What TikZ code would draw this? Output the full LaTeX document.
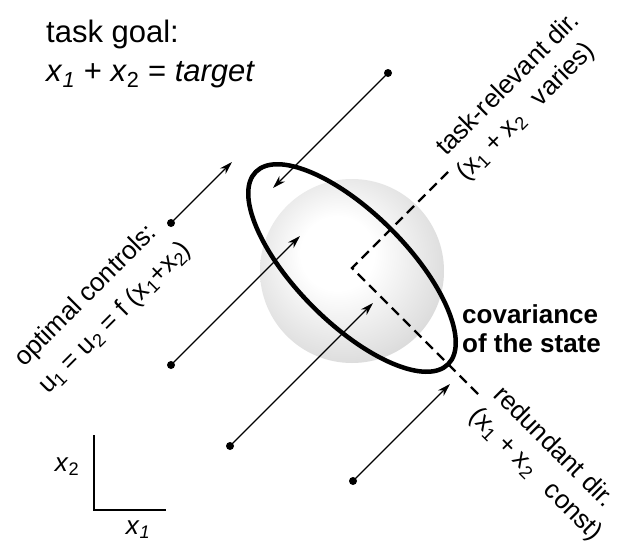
\documentclass[tikz,border=0pt]{standalone}
\usepackage{fontspec}
\setmainfont{Liberation Sans}
\usetikzlibrary{arrows.meta}
\pgfdeclareradialshading{sphereshade}{\pgfpoint{-5bp}{6bp}}{%
  color(0bp)=(white);
  color(10bp)=(white);
  color(26bp)=(white!88!black);
  color(40bp)=(white!76!black);
  color(50bp)=(white!72!black)}
\tikzset{
  dotnode/.style={circle,fill=black,inner sep=0pt,minimum size=8pt},
  ctrl/.style={line width=1.2pt,-{Stealth[length=13pt,width=8pt]}},
  dirline/.style={line width=2.2pt,dash pattern=on 10pt off 6pt},
  covell/.style={line width=4.5pt},
  lbl/.style={font=\fontsize{26}{30}\selectfont,inner sep=0pt},
  biglbl/.style={font=\fontsize{31}{36}\selectfont,inner sep=0pt},
  covlbl/.style={font=\fontsize{26}{30}\selectfont\bfseries,inner sep=0pt},
  axisline/.style={line width=1.8pt}
}
\begin{document}
\begin{tikzpicture}[x=1pt,y=-1pt]
\useasboundingbox (0,0) rectangle (619,546);
\fill[white] (0,0) rectangle (619,546);
% sphere (isotropic covariance)
\shade[shading=sphereshade] (352,271) circle[radius=92];
% task-relevant and redundant directions
\coordinate (corner) at (352,268);
\coordinate (trend) at (448,172);
\coordinate (rdend) at (482,398);
\draw[dirline] (trend) -- (corner) -- (rdend);
% control arrows
\node[dotnode] (s1) at (388,73) {};
\node[dotnode] (s2) at (171,223) {};
\node[dotnode] (s3) at (171,365) {};
\node[dotnode] (s4) at (230,446) {};
\node[dotnode] (s5) at (353,481) {};
\coordinate (t1) at (273,188);
\coordinate (t2) at (232,162);
\coordinate (t3) at (300,236);
\coordinate (t4) at (373,303);
\coordinate (t5) at (450,384);
\draw[ctrl] (s1.center) -- (t1);
\draw[ctrl] (s2.center) -- (t2);
\draw[ctrl] (s3.center) -- (t3);
\draw[ctrl] (s4.center) -- (t4);
\draw[ctrl] (s5.center) -- (t5);
% covariance ellipse
\draw[covell, rotate around={-45:(corner)}] (corner) ellipse [x radius=136, y radius=55];
% labels
\node[biglbl, anchor=base west] (goal1) at (46,42) {task goal:};
\node[biglbl, anchor=base west] (goal2) at (46,81) {\textit{x}\textsubscript{\textit{1}} + \textit{x}\textsubscript{2} = \textit{target}};
\node[lbl, anchor=base west, rotate=45] (tr1) at (446,157) {task-relevant dir.};
\node[lbl, anchor=base west, rotate=45] (tr2) at (466,182) {(x\textsubscript{1} + x\textsubscript{2}\hspace{0.5em} varies)};
\node[lbl, anchor=base west, rotate=45] (oc1) at (24,368) {optimal controls:};
\node[lbl, anchor=base west, rotate=45] (oc2) at (48,395) {u\textsubscript{1} = u\textsubscript{2} = f (x\textsubscript{1}+x\textsubscript{2})};
\node[lbl, anchor=base west, rotate=-45] (rd1) at (492,396) {redundant dir.};
\node[lbl, anchor=base west, rotate=-45] (rd2) at (468,417) {(x\textsubscript{1} + x\textsubscript{2}\hspace{0.5em} const)};
\node[covlbl, anchor=base west] (cov1) at (462,323) {covariance};
\node[covlbl, anchor=base west] (cov2) at (462,352) {of the state};
% axes
\coordinate (ax0) at (94,510);
\coordinate (axy) at (94,435);
\coordinate (axx) at (166,510);
\draw[axisline] (axy) -- (ax0) -- (axx);
\node[lbl] (lx2) at (67,467) {\textit{x}\textsubscript{2}};
\node[lbl] (lx1) at (138,530) {\textit{x}\textsubscript{\textit{1}}};
\end{tikzpicture}
\end{document}
